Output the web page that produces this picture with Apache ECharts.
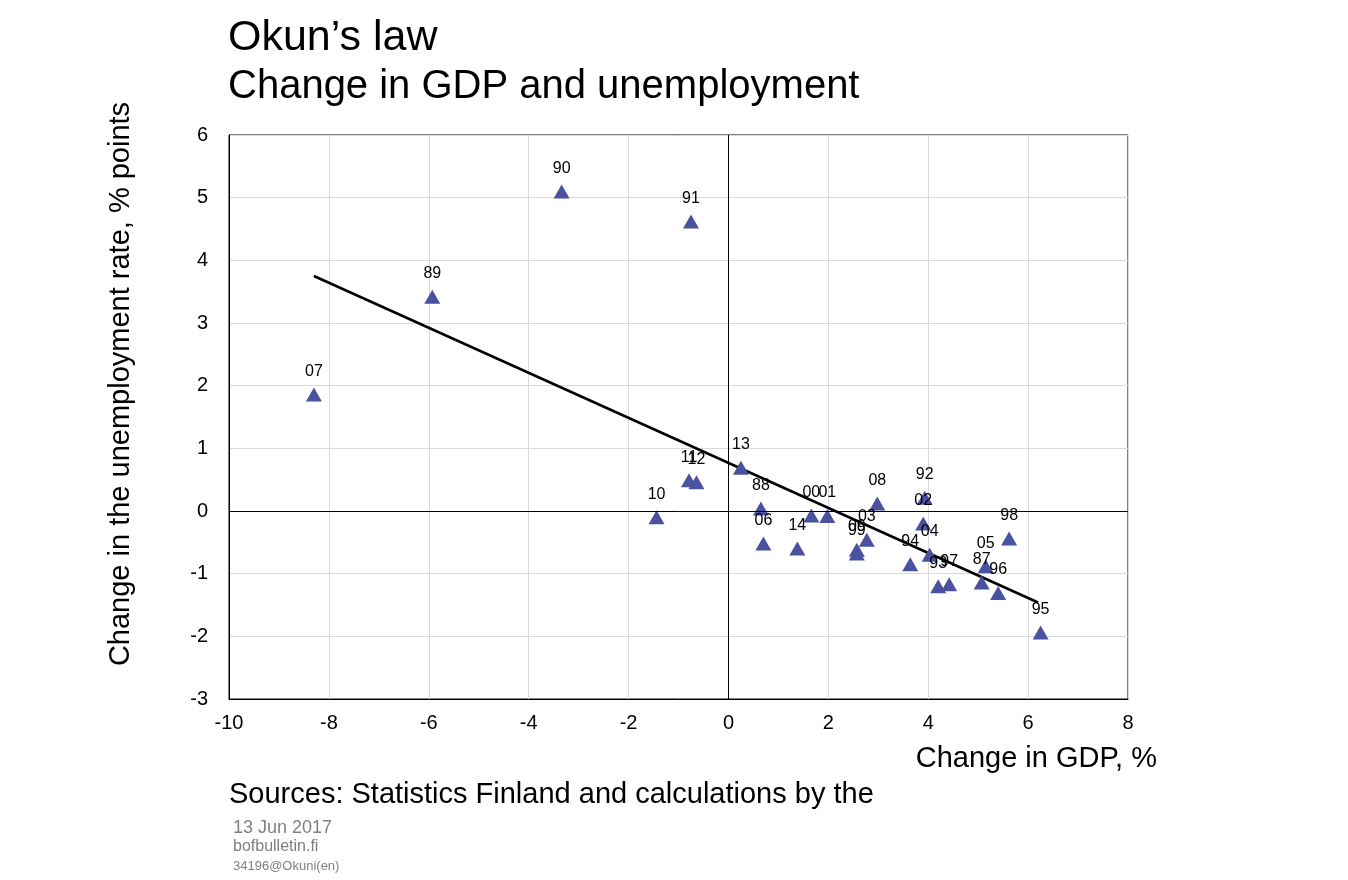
<!DOCTYPE html>
<html><head><meta charset="utf-8">
<script src="https://cdn.jsdelivr.net/npm/echarts@6/dist/echarts.min.js"></script>
<style>html,body{margin:0;padding:0;background:#fff}#c{width:1348px;height:880px}</style>
</head><body><div id="c"></div>
<script>
const years = ['07','89','90','91','10','11','12','13','88','06','14','00','01','09','99','03','08','92','02','04','94','93','97','87','05','96','98','95'];
const gdp   = [-8.30,-5.93,-3.34,-0.75,-1.44,-0.79,-0.64,0.25,0.65,0.70,1.38,1.66,1.98,2.57,2.57,2.77,2.98,3.93,3.90,4.03,3.64,4.20,4.42,5.07,5.15,5.40,5.62,6.25];
const unemp = [1.86,3.42,5.10,4.62,-0.10,0.49,0.46,0.69,0.04,-0.52,-0.60,-0.07,-0.08,-0.62,-0.68,-0.46,0.12,0.21,-0.20,-0.70,-0.85,-1.20,-1.17,-1.14,-0.88,-1.31,-0.44,-1.94];
const trendX = [-8.30, 6.20];
const trendY = [3.75, -1.46];
const xTicks = [-10,-8,-6,-4,-2,0,2,4,6,8];
const yTicks = [-3,-2,-1,0,1,2,3,4,5,6];

const font = 'Liberation Sans, Arial, sans-serif';
const chart = echarts.init(document.getElementById('c'));
function txt(text, x, y, size, color, opts){
  return Object.assign({type:'text',style:Object.assign({text:text,x:x,y:y,fontSize:size,fill:color,fontFamily:font,verticalAlign:'middle'},opts||{})});
}
chart.setOption({
  animation:false,
  textStyle:{fontFamily:font},
  grid:{left:229,right:220,top:135,bottom:181,show:true,borderColor:'#000',borderWidth:1},
  xAxis:{type:'value',min:xTicks[0],max:xTicks[xTicks.length-1],interval:2,
    axisLine:{show:true,onZero:false,lineStyle:{color:'#000'}},axisTick:{show:false},
    splitLine:{lineStyle:{color:'#d9d9d9'}},
    axisLabel:{color:'#000',fontSize:20,margin:14}},
  yAxis:{type:'value',min:yTicks[0],max:yTicks[yTicks.length-1],interval:1,
    axisLine:{show:true,onZero:false,lineStyle:{color:'#000'}},axisTick:{show:false},
    splitLine:{lineStyle:{color:'#d9d9d9'}},
    axisLabel:{color:'#000',fontSize:20,margin:21}},
  graphic:[
    txt('Okun’s law',228,38,43,'#000'),
    txt('Change in GDP and unemployment',228,87,40,'#000'),
    txt('Change in GDP, %',1157,759,29,'#000',{align:'right'}),
    {type:'text',x:121,y:384,rotation:Math.PI/2,
      style:{text:'Change in the unemployment rate, % points',x:0,y:0,fontSize:29,fill:'#000',fontFamily:font,align:'center',verticalAlign:'middle'}},
    txt('Sources: Statistics Finland and calculations by the',229,795,29,'#000'),
    txt('13 Jun 2017',233,828,18,'#808080'),
    txt('bofbulletin.fi',233,847,16,'#808080'),
    txt('34196@Okuni(en)',233,866,13,'#808080')
  ],
  series:[
    {type:'line',data:trendX.map((x,i)=>[x,trendY[i]]),symbol:'none',
      lineStyle:{color:'#000',width:2.5},z:3,silent:true},
    {type:'scatter',symbol:'triangle',symbolSize:[16,14],z:4,
      itemStyle:{color:'#4a52a0',opacity:1},
      data:gdp.map((x,i)=>({name:years[i],value:[x,unemp[i]]})),
      label:{show:true,position:'top',distance:8,formatter:p=>p.name,color:'#000',fontSize:16},
      labelLayout:{hideOverlap:false},
      markLine:{silent:true,symbol:'none',label:{show:false},
        lineStyle:{color:'#000',width:1,type:'solid'},
        data:[{xAxis:0},{yAxis:0}]}}
  ]
});
</script></body></html>
